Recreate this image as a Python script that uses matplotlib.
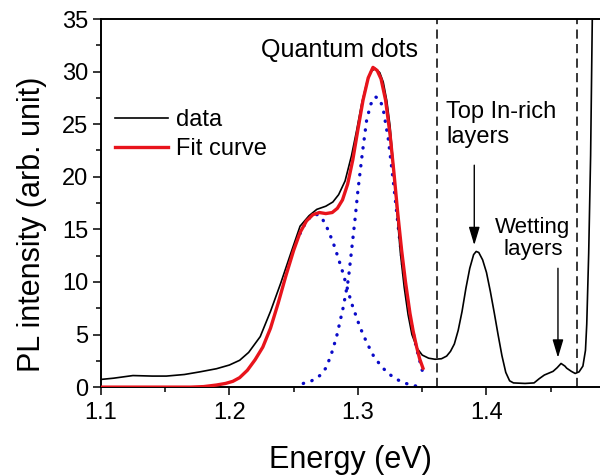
import matplotlib
matplotlib.use('Agg')
import matplotlib.pyplot as plt
from matplotlib.ticker import MultipleLocator

plt.rcParams['font.family'] = ['Liberation Sans', 'DejaVu Sans']

# measured PL spectrum (energy in eV, intensity in arb. unit)
data_e = [1.100, 1.110, 1.125, 1.140, 1.151, 1.165, 1.177, 1.190, 1.200, 1.208,
          1.215, 1.224, 1.232, 1.240, 1.248, 1.255, 1.262, 1.268, 1.275, 1.2805,
          1.285, 1.290, 1.295, 1.299, 1.303, 1.307, 1.310, 1.3135, 1.317,
          1.3197, 1.3225, 1.325, 1.328, 1.3305, 1.333, 1.336, 1.339, 1.342,
          1.346, 1.350, 1.355, 1.360, 1.365, 1.369, 1.372, 1.375, 1.378, 1.381,
          1.384, 1.387, 1.390, 1.392, 1.394, 1.397, 1.400, 1.403, 1.406, 1.409,
          1.412, 1.415, 1.418, 1.421, 1.430, 1.437, 1.441, 1.445, 1.4518,
          1.455, 1.458, 1.461, 1.4624, 1.466, 1.469, 1.472, 1.475, 1.477,
          1.478, 1.4795, 1.481, 1.482, 1.4825]
data_i = [0.73, 0.85, 1.1, 1.05, 1.05, 1.2, 1.45, 1.75, 2.1, 2.55,
          3.3, 4.8, 7.2, 9.9, 12.8, 15.3, 16.3, 16.9, 17.2, 17.6,
          18.3, 19.6, 22.0, 24.4, 27.0, 29.0, 30.0, 30.3, 29.9,
          29.0, 27.2, 24.8, 20.5, 16.5, 12.8, 9.5, 6.9, 5.0,
          3.7, 3.05, 2.75, 2.65, 2.7, 2.95, 3.4, 4.1, 5.4, 7.2,
          9.4, 11.3, 12.6, 12.9, 12.8, 12.1, 10.9, 9.1, 7.1, 5.0,
          3.0, 1.4, 0.6, 0.4, 0.35, 0.4, 0.8, 1.15, 1.5,
          1.85, 2.25, 2.0, 1.8, 1.5, 1.3, 1.45, 2.0, 3.5,
          6.0, 12.7, 22.0, 32.0, 37.0]

# total fit curve
fit_e = [1.100, 1.170, 1.180, 1.190, 1.197, 1.2027, 1.208, 1.214, 1.220,
         1.226, 1.232, 1.238, 1.244, 1.250, 1.255, 1.260, 1.265, 1.270,
         1.275, 1.280, 1.284, 1.288, 1.292, 1.296, 1.300, 1.304, 1.308,
         1.3117, 1.315, 1.318, 1.3215, 1.325, 1.328, 1.331, 1.334, 1.337,
         1.3405, 1.343, 1.3457, 1.348, 1.3506]
fit_i = [0.0, 0.0, 0.05, 0.2, 0.35, 0.55, 0.9, 1.6, 2.6,
         3.8, 5.6, 8.0, 10.6, 13.0, 14.7, 15.8, 16.4, 16.6,
         16.5, 16.6, 17.0, 17.8, 19.3, 21.6, 24.5, 27.3, 29.4,
         30.4, 30.1, 29.3, 27.3, 24.0, 20.4, 16.5, 13.0, 10.0,
         7.0, 5.3, 3.8, 2.7, 1.8]

# fitted components
comp1_e = [1.255, 1.260, 1.265, 1.269, 1.2728, 1.277, 1.282, 1.288, 1.295,
           1.3016, 1.307, 1.312, 1.318, 1.3236, 1.330, 1.336, 1.343, 1.348]
comp1_i = [14.6, 15.8, 16.4, 16.4, 15.9, 14.9, 13.3, 11.0, 8.0,
           5.7, 4.2, 3.0, 2.0, 1.3, 0.75, 0.4, 0.15, 0.05]
comp2_e = [1.2575, 1.264, 1.2704, 1.275, 1.279, 1.2834, 1.2886, 1.2925, 1.2977,
           1.300, 1.3035, 1.3068, 1.310, 1.3135, 1.317, 1.3197, 1.3236, 1.3275,
           1.3314, 1.3353, 1.3405, 1.3457, 1.350]
comp2_i = [0.35, 0.6, 1.1, 1.8, 3.0, 4.8, 7.6, 10.2, 15.9,
           18.7, 22.3, 25.4, 26.9, 27.6, 27.4, 26.4, 23.6, 19.6,
           15.2, 11.0, 6.6, 3.6, 1.6]

# boundaries between spectral regions
bounds_e = [1.3615, 1.4702]

fig = plt.figure(figsize=(6, 4.75), dpi=100)
ax = fig.add_axes([0.168, 0.185, 0.832, 0.775])

dots = dict(color='#0a0ac8', lw=2.4, ls=(0, (0.1, 2.6)),
            dash_capstyle='round', zorder=1)
ax.plot(comp1_e, comp1_i, **dots)
ax.plot(comp2_e, comp2_i, **dots)
ax.plot(data_e, data_i, color='black', lw=1.2, zorder=2, label='data')
ax.plot(fit_e, fit_i, color='#e8141c', lw=2.4, zorder=3, label='Fit curve')
for e in bounds_e:
    ax.axvline(e, color='black', lw=1.1, ls=(0, (6, 3.5)), zorder=0)

# annotations
ax.text(1.286, 31.4, 'Quantum dots', fontsize=18, ha='center', va='baseline')
ax.text(1.3685, 27.2, 'Top In-rich\nlayers', fontsize=17, ha='left', va='top',
        linespacing=1.15)
ax.text(1.436, 16.2, 'Wetting\nlayers', fontsize=16, ha='center', va='top',
        linespacing=1.1)
arrow = dict(arrowstyle='-|>,head_length=1.0,head_width=0.3',
             mutation_scale=11, lw=1.0, color='black', shrinkA=0, shrinkB=0)
ax.annotate('', xy=(1.3905, 13.5), xytext=(1.3905, 21.1), arrowprops=arrow)
ax.annotate('', xy=(1.4556, 2.8), xytext=(1.4556, 11.3), arrowprops=arrow)

ax.legend(loc='upper left', bbox_to_anchor=(0.028, 0.756), frameon=False,
          fontsize=17, handlelength=2.25, handletextpad=0.35,
          labelspacing=0.32, borderpad=0, borderaxespad=0)

# axes properties
ax.set_xlim(1.1, 1.4883)
ax.set_ylim(0, 35)
ax.xaxis.set_major_locator(MultipleLocator(0.1))
ax.xaxis.set_minor_locator(MultipleLocator(0.05))
ax.yaxis.set_major_locator(MultipleLocator(5))
ax.yaxis.set_minor_locator(MultipleLocator(2.5))
ax.tick_params(which='both', direction='out', width=1.1, top=False,
               right=False, labelsize=17)
ax.tick_params(axis='x', which='major', length=6, pad=5)
ax.tick_params(axis='y', which='major', length=6, pad=3)
ax.tick_params(which='minor', length=3.5)
ax.spines['right'].set_visible(False)
for side in ('left', 'bottom', 'top'):
    ax.spines[side].set_linewidth(1.4)
ax.set_xlabel('Energy (eV)', fontsize=22, labelpad=15)
ax.set_ylabel('PL intensity (arb. unit)', fontsize=22)
ax.yaxis.set_label_coords(-0.108, 0.443)

fig.savefig('out.png', dpi=100)
